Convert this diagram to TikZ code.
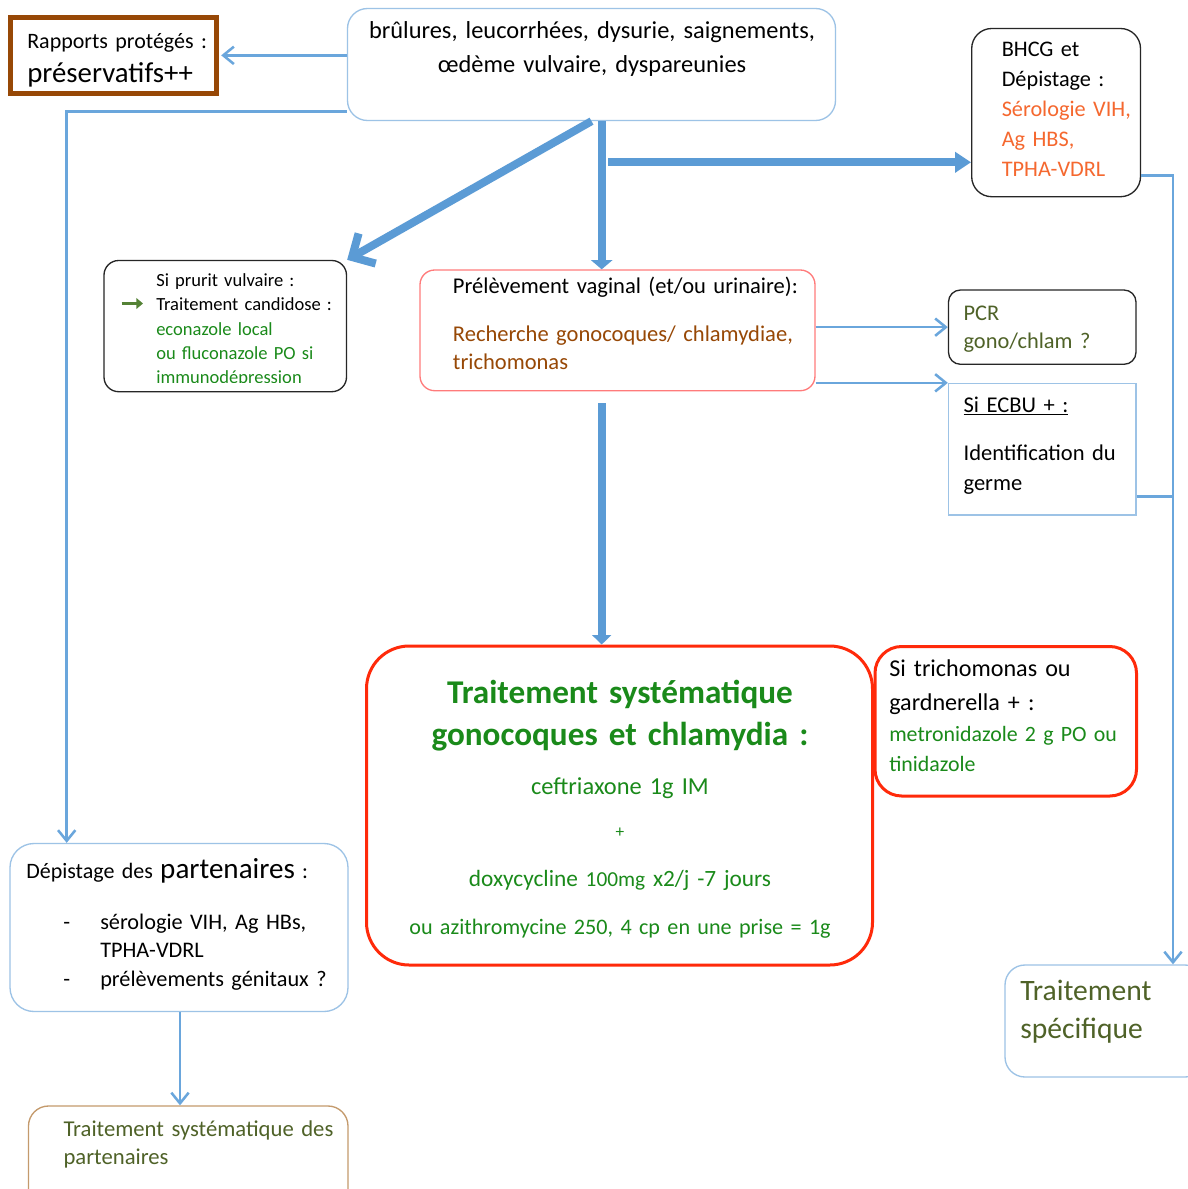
\documentclass[tikz,border=0pt]{standalone}
\usepackage{fontspec}
\setmainfont{Carlito}
\usetikzlibrary{arrows.meta,fit,calc}
\definecolor{lblue}{HTML}{9DC3E6}
\definecolor{connc}{HTML}{6AA6DC}
\definecolor{thickc}{HTML}{5B9BD5}
\definecolor{brn}{HTML}{974806}
\definecolor{txtgreen}{HTML}{1A8A1A}
\definecolor{olive}{HTML}{4F6228}
\definecolor{orng}{HTML}{F5682F}
\definecolor{redb}{HTML}{FF2A0A}
\definecolor{lred}{HTML}{FF7B7B}
\definecolor{tanc}{HTML}{C49A6C}
\definecolor{bgreen}{HTML}{548235}
\tikzset{
  box/.style={draw, inner sep=0pt, line width=1pt},
  bluebox/.style={box, draw=lblue},
  blackbox/.style={box, draw=black!85},
  redbox/.style={box, draw=redb, line width=2.25pt},
  txt/.style={inner sep=0pt, anchor=base west, text width=12cm, align=left},
  ctxt/.style={inner sep=0pt, anchor=base, text width=12cm, align=center},
  connline/.style={draw=connc, line width=1.9pt},
  conn/.style={connline, -{Straight Barb[length=8pt,width=13pt]}},
  thickarrow/.style={draw=thickc, line width=6pt},
}
\begin{document}
\begin{tikzpicture}[x=0.75pt,y=-0.75pt]
\useasboundingbox (0,0) rectangle (1188,1189);
\fill[white] (0,0) rectangle (1188,1189);
\clip (0,0) rectangle (1188,1189);

% boxes
\node[box, draw=brn, line width=3.75pt, fit={(10,17.5) (216.7,93.2)}] (rap) {};
\node[bluebox, rounded corners=15pt, fit={(347.5,8.5) (835.5,120.5)}] (top) {};
\node[blackbox, rounded corners=15pt, fit={(971.7,28.5) (1140.5,196.7)}] (bhcg) {};
\node[blackbox, rounded corners=11pt, fit={(104,260.5) (346.5,391.7)}] (prur) {};
\node[box, draw=lred, rounded corners=11pt, fit={(420,270) (815,390.7)}] (pre) {};
\node[blackbox, rounded corners=9pt, fit={(948.5,290) (1136,364.3)}] (pcr) {};
\node[bluebox, fit={(948.5,383.5) (1136,515)}] (ecbu) {};
\node[redbox, rounded corners=32pt, fit={(366.5,646) (872.5,965)}] (big) {};
\node[redbox, rounded corners=20pt, fit={(875,646.5) (1136.5,796)}] (tri) {};
\node[bluebox, rounded corners=18pt, fit={(10,843.5) (348,1011.5)}] (dep) {};
\node[box, draw=tanc, rounded corners=15pt, fit={(28.5,1106) (348,1215)}] (tsp) {};
\node[bluebox, rounded corners=15pt, fit={(1005,965) (1205,1077)}] (spec) {};

% texts
\node[ctxt, font=\fontsize{18.3}{25.5}\selectfont] (top-t) at (592,38)
  {brûlures, leucorrhées, dysurie, saignements,\\ œdème vulvaire, dyspareunies};
\node[txt, font=\fontsize{16.5}{25.5}\selectfont] (rap-t) at (27,48)
  {Rapports protégés :\\ {\fontsize{21.6}{25.5}\selectfont préservatifs++}};
\node[txt, font=\fontsize{16.7}{22.5}\selectfont] (bhcg-t) at (1001.5,56.7)
  {BHCG et\\ Dépistage :\\ \textcolor{orng}{Sérologie VIH,}\\ \textcolor{orng}{Ag HBS,}\\ \textcolor{orng}{TPHA-VDRL}};
\begin{scope}
\clip (100,250) rectangle (350,382);
\node[txt, font=\fontsize{13.9}{18.2}\selectfont] (prur-t) at (156,286.7)
  {Si prurit vulvaire :\\ Traitement candidose :\\ \textcolor{txtgreen}{econazole local}\\ \textcolor{txtgreen}{ou fluconazole PO si}\\ \textcolor{txtgreen}{immunodépression}};
\end{scope}
\draw[bgreen, line width=2.3pt, -{Triangle[length=5pt,width=8pt]}] (121.7,303.5) -- (143,303.5);
\node[txt, font=\fontsize{16.9}{21.2}\selectfont] (pre-t) at (452.7,293.3)
  {Prélèvement vaginal (et/ou urinaire):\\[15pt] \textcolor{brn}{Recherche gonocoques/ chlamydiae,}\\ \textcolor{brn}{trichomonas}};
\node[txt, font=\fontsize{16.8}{21.2}\selectfont, text=olive] (pcr-t) at (963.3,320)
  {PCR\\ gono/chlam ?};
\node[txt, font=\fontsize{16.9}{22.5}\selectfont] (ecbu-t) at (963.3,412.7)
  {\underline{Si ECBU + :}\\[13pt] Identification du\\ germe};
\node[ctxt, font=\fontsize{24.9}{31.3}\selectfont\bfseries, text=txtgreen] (big-t1) at (620,703.3)
  {Traitement systématique\\ gonocoques et chlamydia :};
\node[ctxt, font=\fontsize{18.3}{20}\selectfont, text=txtgreen] (big-t2) at (620,794.3) {ceftriaxone 1g IM};
\node[ctxt, font=\fontsize{13}{14}\selectfont, text=txtgreen] (big-t3) at (620,837) {+};
\node[ctxt, font=\fontsize{17.5}{20}\selectfont, text=txtgreen] (big-t4) at (620,886.7)
  {doxycycline {\fontsize{16}{16}\selectfont 100mg} x2/j -7 jours};
\node[ctxt, font=\fontsize{16.6}{20}\selectfont, text=txtgreen] (big-t5) at (620,934)
  {ou azithromycine 250, 4 cp en une prise = 1g};
\node[txt, font=\fontsize{18.1}{25}\selectfont] (tri-t1) at (889,676.7)
  {Si trichomonas ou\\ gardnerella + :};
\node[txt, font=\fontsize{16.4}{22.5}\selectfont, text=txtgreen] (tri-t2) at (889,741.7)
  {metronidazole 2 g PO ou\\ tinidazole};
\node[txt, font=\fontsize{16.5}{20}\selectfont] (dep-t1) at (26,878.3)
  {Dépistage des {\fontsize{21.8}{20}\selectfont partenaires} :};
\node[txt, font=\fontsize{16.7}{21.5}\selectfont] (dep-t2) at (63,929.3)
  {\makebox[27.75pt][l]{-}sérologie VIH, Ag HBs,\\ \hspace*{27.75pt}TPHA-VDRL\\ \makebox[27.75pt][l]{-}prélèvements génitaux ?};
\node[txt, font=\fontsize{17}{21.2}\selectfont, text=olive] (tsp-t) at (63.3,1136)
  {Traitement systématique des\\ partenaires};
\node[txt, font=\fontsize{22.2}{28.7}\selectfont, text=olive] (spec-t) at (1020,1000)
  {Traitement\\ spécifique};

% connectors
\draw[conn, shorten >=1.5pt] (top.west |- rap.east) -- (rap.east);
\coordinate (lc) at (66.7,111.7);
\draw[conn] (top.west |- lc) -- (lc) -- (lc |- dep.north);
\draw[thickarrow, -{Straight Barb[length=13pt,width=26pt]}] (top.south) -- (prur.north east);
\coordinate (vx) at (601.7,0);
\draw[thickarrow, -{Triangle[length=7pt,width=16pt]}] (top.south -| vx) -- (pre.north -| vx);
\coordinate (hs) at (608.3,162.3);
\draw[thickarrow, -{Triangle[length=12pt,width=15pt]}] (hs) -- (bhcg.west |- hs);
\draw[conn] (pre.east |- pcr.west) -- (pcr.west);
\draw[conn] (pre.east |- ecbu.north west) -- (ecbu.north west);
\coordinate (rx) at (1173,175.3);
\draw[conn] (bhcg.east |- rx) -- (rx) -- (rx |- spec.north);
\coordinate (ey) at (1173,496.7);
\draw[connline] (ecbu.east |- ey) -- (ey);
\coordinate (ls) at (601.7,403);
\draw[thickarrow, -{Triangle[length=7pt,width=14pt]}] (ls) -- (big.north -| vx);
\coordinate (dx) at (180,0);
\draw[conn] (dep.south -| dx) -- (tsp.north -| dx);
\end{tikzpicture}
\end{document}
